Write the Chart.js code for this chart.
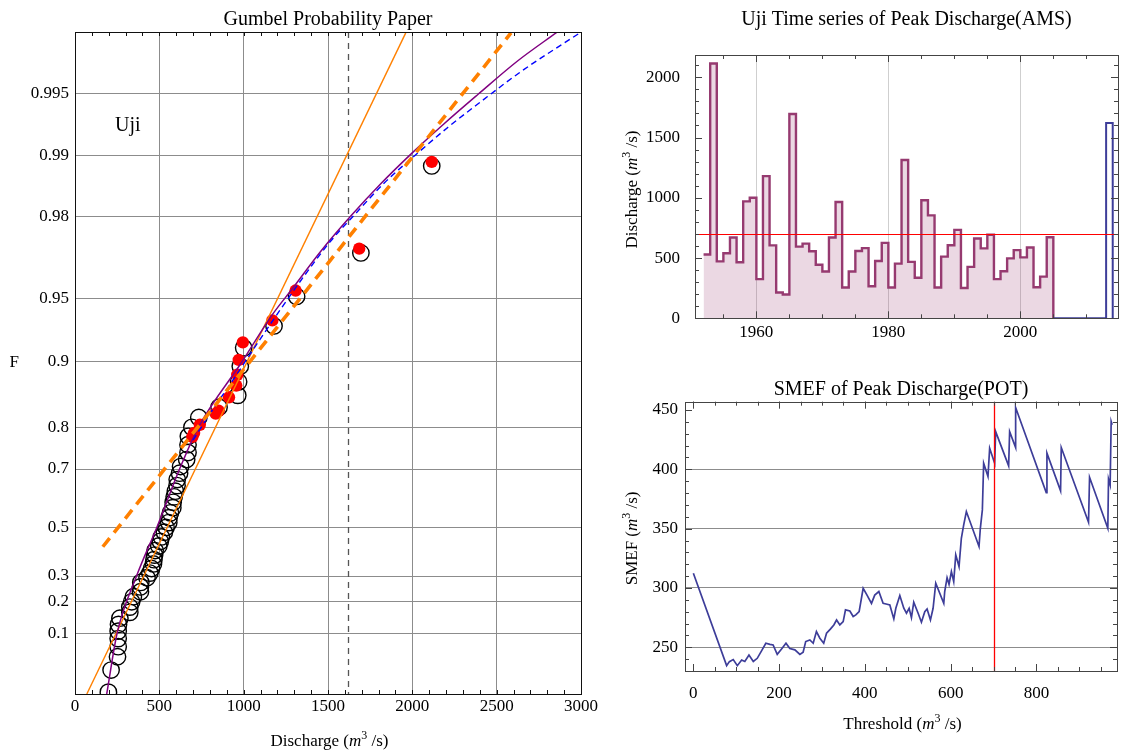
<!DOCTYPE html>
<html>
<head>
<meta charset="utf-8">
<script src="https://cdn.jsdelivr.net/npm/chart.js"></script>
<style>
  body { margin: 0; background: #fff; }
  #wrap { position: relative; width: 1128px; height: 753px; }
  canvas { position: absolute; }
</style>
</head>
<body>
<div id="wrap">
  <canvas id="gumbel" width="600" height="753" style="left:0;top:0"></canvas>
  <canvas id="ams" width="528" height="370" style="left:600px;top:0"></canvas>
  <canvas id="smef" width="528" height="383" style="left:600px;top:370px"></canvas>
</div>
<script>
// annual maximum series, Uji
const amsYears = [1952, 1953, 1954, 1955, 1956, 1957, 1958, 1959, 1960, 1961, 1962, 1963, 1964, 1965, 1966, 1967, 1968, 1969, 1970, 1971,
  1972, 1973, 1974, 1975, 1976, 1977, 1978, 1979, 1980, 1981, 1982, 1983, 1984, 1985, 1986, 1987, 1988, 1989, 1990, 1991,
  1992, 1993, 1994, 1995, 1996, 1997, 1998, 1999, 2000, 2001, 2002, 2003, 2004];
const amsValues = [530, 2115, 472, 540, 670, 465, 970, 1000, 325, 1180, 605, 214, 198, 1695, 595, 620, 556, 444, 388, 670,
  965, 256, 388, 558, 582, 266, 475, 626, 256, 454, 1314, 468, 336, 980, 854, 256, 512, 606, 734, 252,
  427, 662, 580, 693, 325, 390, 497, 566, 506, 588, 258, 346, 672];
const amsEndYear = 2005;
const recentYears = [2013];
const recentValues = [1620];
const potThreshold = 700;

// plotting positions of the sorted AMS (circles)
const plotPosF = [0.011, 0.030, 0.049, 0.068, 0.086, 0.105, 0.124, 0.143, 0.162, 0.180, 0.199, 0.218, 0.237, 0.256, 0.274,
  0.293, 0.312, 0.331, 0.350, 0.368, 0.387, 0.406, 0.425, 0.444, 0.462, 0.481, 0.500, 0.519, 0.538, 0.556, 0.575, 0.594,
  0.613, 0.632, 0.650, 0.669, 0.688, 0.707, 0.726, 0.744, 0.763, 0.782, 0.801, 0.820, 0.838, 0.857, 0.876, 0.895, 0.914,
  0.9323, 0.9511, 0.9699, 0.9887];

// POT based points (red)
const potQ = [696, 706, 740, 834, 852, 913, 956, 962, 971, 995, 1170, 1308, 1685, 2115];
const potF = [0.781, 0.789, 0.806, 0.827, 0.832, 0.854, 0.871, 0.885, 0.902, 0.919, 0.9363, 0.9542, 0.9713, 0.9892];

// fitted lines on gumbel paper
const gumbelLineQ = [70, 1961];
const gumbelLineF = [0.01, 0.9975];
const dashLineQ = [165, 2585];
const dashLineF = [0.4218, 0.9975];
const gevQ = [188, 250, 365, 485, 620, 730, 990, 1170, 1292, 1455, 1635, 1810, 2001, 2185, 2390, 2620, 2858];
const gevF = [0.01, 0.1, 0.3, 0.5, 0.7, 0.8, 0.9, 0.9402, 0.9555, 0.9703, 0.9801, 0.9861, 0.99028, 0.99295, 0.99498,
  0.99654, 0.99752];
const gpdQ = [700, 800, 935, 1070, 1210, 1365, 1515, 1660, 1835, 2035, 2210, 2400, 2650, 3000];
const gpdF = [0.7736, 0.8268, 0.8778, 0.9156, 0.9423, 0.9617, 0.9736, 0.9805, 0.98634, 0.99028, 0.99269, 0.99449,
  0.99615, 0.99752];

// sample mean excess function
const smefU = [0, 77.6, 84, 93, 102.5, 112.6, 120, 129.7, 139.8, 149, 159, 169, 178.6, 186, 195.6, 205.7, 216, 225, 236.8,
  248.4, 256, 262, 271.7, 279.5, 287, 295, 304, 310.6, 320, 327.6, 334, 341.6, 349.4, 354.8, 365, 372.7, 378.9, 386.6,
  396, 405, 415.4, 423, 432.6, 442.5, 451.9, 458.2, 467.5, 472.2, 481.5, 490.8, 497, 503.2, 508.6, 514, 524.2, 531.9,
  539.7, 545.1, 552.9, 559.1, 565.3, 584, 586.2, 591.7, 596.3, 601.8, 607.2, 611.9, 619.6, 625, 630.5, 636.7, 666.2,
  669.3, 674, 677, 687.1, 691, 702.7, 705, 735.3, 737.6, 751.6, 751.6, 823, 824.6, 856.4, 858, 921.6, 924, 966.6, 968.2,
  972, 974.4, 976.7];
const smefE = [312.4, 234.5, 237.9, 239.6, 234.5, 239.3, 238, 243.5, 238, 240.7, 247, 253.4, 252.5, 252, 244, 248.6, 253.4,
  249, 247.8, 244, 245.8, 254.8, 256.2, 253.4, 263.2, 257.6, 253.4, 261.8, 265.5, 268.8, 273, 268.8, 271.6, 281.5, 280.6,
  275.9, 277.3, 280, 299.7, 294, 287, 294, 297, 287, 286.3, 285.7, 273.9, 282.9, 293.6, 282.9, 278.7, 282.9, 275, 288,
  278.7, 271.1, 280, 282.3, 273, 282.9, 304, 287, 297, 308.7, 303.1, 313.8, 305.4, 327.9, 318, 341.9, 353.1, 364.4,
  334.9, 350.3, 365.8, 405.1, 393.9, 417.8, 405.1, 431.8, 402.9, 431.8, 418.4, 452.1, 380.4, 413.6, 381.8, 418.4, 355.4,
  393.3, 350.3, 391.9, 386.9, 440.3, 437.5];

// ticks
const fTicks = [0.1, 0.2, 0.3, 0.5, 0.7, 0.8, 0.9, 0.95, 0.98, 0.99, 0.995];
const fTickLabels = ['0.1', '0.2', '0.3', '0.5', '0.7', '0.8', '0.9', '0.95', '0.98', '0.99', '0.995'];
const qTicks = [0, 500, 1000, 1500, 2000, 2500, 3000];
const yearTicks = [1960, 1980, 2000];
const amsTicks = [0, 500, 1000, 1500, 2000];
const uTicks = [0, 200, 400, 600, 800];
const smefTicks = [250, 300, 350, 400, 450];

const SERIF = "'Liberation Serif', 'DejaVu Serif', serif";
Chart.defaults.font.family = SERIF;
Chart.defaults.font.size = 17;
Chart.defaults.color = '#000';

const gy = f => -Math.log(-Math.log(f));   // gumbel reduced variate
const toPts = (qs, fs) => qs.map((q, i) => ({ x: q, y: gy(fs[i]) }));
const range = (a, b, s) => { const out = []; for (let v = a; v <= b + 1e-9; v += s) out.push(v); return out; };
const setTicks = vals => s => { s.ticks = vals.map(v => ({ value: v })); };
const plain = v => String(v);

const unitParts = name => [
  { t: name + ' (', size: 17 },
  { t: 'm', size: 17, style: 'italic' },
  { t: '3', size: 12, rise: 7 },
  { t: ' /s)', size: 17 }
];

function drawRich(ctx, t) {
  ctx.save();
  ctx.translate(t.x, t.y);
  if (t.rotate) ctx.rotate(-Math.PI / 2);
  ctx.fillStyle = '#000';
  ctx.textBaseline = 'alphabetic';
  ctx.textAlign = 'left';
  let w = 0;
  t.parts.forEach(p => { ctx.font = `${p.style || ''} ${p.size}px ${SERIF}`; w += ctx.measureText(p.t).width; });
  let cx = t.align === 'left' ? 0 : -w / 2;
  t.parts.forEach(p => {
    ctx.font = `${p.style || ''} ${p.size}px ${SERIF}`;
    ctx.fillText(p.t, cx, -(p.rise || 0));
    cx += ctx.measureText(p.t).width;
  });
  ctx.restore();
}

function decor(cfg) {
  const line = (ctx, x1, y1, x2, y2) => { ctx.beginPath(); ctx.moveTo(x1, y1); ctx.lineTo(x2, y2); ctx.stroke(); };
  const refs = (chart, list) => {
    const { ctx, chartArea: a, scales } = chart;
    (list || []).forEach(r => {
      ctx.save();
      ctx.beginPath();
      ctx.rect(a.left, a.top, a.right - a.left, a.bottom - a.top);
      ctx.clip();
      ctx.strokeStyle = r.color;
      ctx.lineWidth = r.width;
      ctx.setLineDash(r.dash || []);
      if (r.axis === 'x') {
        const p = Math.round(scales.x.getPixelForValue(r.value)) + 0.5;
        line(ctx, p, a.top, p, a.bottom);
      } else {
        const p = Math.round(scales.y.getPixelForValue(r.value)) + 0.5;
        line(ctx, a.left, p, a.right, p);
      }
      ctx.restore();
    });
  };
  return {
    id: 'decor',
    beforeDatasetsDraw(chart) { refs(chart, cfg.under); },
    afterDatasetsDraw(chart) {
      refs(chart, cfg.over);
      const { ctx, chartArea: a, scales } = chart;
      ctx.save();
      ctx.strokeStyle = cfg.frame;
      ctx.lineWidth = 1;
      ctx.setLineDash([]);
      (cfg.ticks || []).forEach(t => {
        t.values.forEach(v => {
          if (t.axis === 'x') {
            const p = Math.round(scales.x.getPixelForValue(v)) + 0.5;
            if (p < a.left || p > a.right) return;
            line(ctx, p, a.bottom, p, a.bottom - t.len);
            line(ctx, p, a.top, p, a.top + t.len);
          } else {
            const p = Math.round(scales.y.getPixelForValue(v)) + 0.5;
            if (p < a.top || p > a.bottom) return;
            line(ctx, a.left, p, a.left + t.len, p);
            line(ctx, a.right, p, a.right - t.len, p);
          }
        });
      });
      ctx.strokeRect(Math.round(a.left) + 0.5, Math.round(a.top) + 0.5,
        Math.round(a.right - a.left), Math.round(a.bottom - a.top));
      ctx.restore();
    },
    afterDraw(chart) { (cfg.texts || []).forEach(t => drawRich(chart.ctx, t)); }
  };
}

const baseOpts = {
  responsive: false,
  animation: false,
  events: []
};
const titleOpts = (text, top, bottom) => ({
  display: true, text, color: '#000', fullSize: false,
  font: { size: 20, weight: 'normal', lineHeight: 1.2 },
  padding: { top, bottom }
});

// ---------- Gumbel probability paper ----------
const sortedQ = [...amsValues].sort((a, b) => a - b);

new Chart(document.getElementById('gumbel'), {
  type: 'scatter',
  data: {
    datasets: [
      { data: sortedQ.map((q, i) => ({ x: q, y: gy(plotPosF[i]) })), pointRadius: 8.2, borderWidth: 1.4,
        borderColor: '#000', backgroundColor: 'rgba(0,0,0,0)', order: 7 },
      { data: toPts(potQ, potF), pointRadius: 6.2, borderWidth: 0, backgroundColor: '#ff0000', order: 6 },
      { data: toPts(gumbelLineQ, gumbelLineF), showLine: true, pointRadius: 0, borderColor: '#ff8000',
        borderWidth: 1.4, order: 4 },
      { data: toPts(gevQ, gevF), showLine: true, pointRadius: 0, borderColor: '#800080', borderWidth: 1.5,
        cubicInterpolationMode: 'monotone', order: 3 },
      { data: toPts(gpdQ, gpdF), showLine: true, pointRadius: 0, borderColor: '#0000ff', borderWidth: 1.4,
        borderDash: [6, 4], cubicInterpolationMode: 'monotone', order: 2 },
      { data: toPts(dashLineQ, dashLineF), showLine: true, pointRadius: 0, borderColor: '#ff8000',
        borderWidth: 3.6, borderDash: [11, 7], order: 1 }
    ]
  },
  options: {
    ...baseOpts,
    layout: { padding: { left: 0, right: 17, top: 0, bottom: 0 }, autoPadding: false },
    plugins: {
      legend: { display: false }, tooltip: { enabled: false },
      title: titleOpts('Gumbel Probability Paper', 7.5, 0.5)
    },
    scales: {
      x: {
        type: 'linear', min: 0, max: 3000,
        afterBuildTicks: setTicks(qTicks),
        afterFit: s => { s.height = 59; },
        grid: { color: '#8c8c8c', drawTicks: false },
        border: { display: false },
        ticks: { padding: 2, maxRotation: 0, autoSkip: false, callback: plain }
      },
      y: {
        type: 'linear', min: gy(0.01), max: 6,
        afterBuildTicks: s => { s.ticks = fTicks.map(f => ({ value: gy(f) })); },
        afterFit: s => { s.width = 75; },
        grid: { color: '#8c8c8c', drawTicks: false },
        border: { display: false },
        ticks: { padding: 6, autoSkip: false, callback: (v, i) => fTickLabels[i] }
      }
    }
  },
  plugins: [decor({
    frame: '#111',
    under: [{ axis: 'x', value: recentValues[0], color: '#555', width: 1.3, dash: [6, 5] }],
    ticks: [{ axis: 'x', values: range(0, 3000, 100), len: 4 }],
    texts: [
      { parts: [{ t: 'Uji', size: 20 }], x: 115, y: 131, align: 'left' },
      { parts: [{ t: 'F', size: 17 }], x: 9.5, y: 367, align: 'left' },
      { parts: unitParts('Discharge'), x: 329.5, y: 746 }
    ]
  })]
});

// ---------- AMS time series ----------
new Chart(document.getElementById('ams'), {
  type: 'scatter',
  data: {
    datasets: [
      { data: [...amsYears.map((yr, i) => ({ x: yr, y: amsValues[i] })), { x: amsEndYear, y: 0 }],
        showLine: true, stepped: 'before', pointRadius: 0, borderColor: 'rgb(150,58,112)', borderWidth: 2.4,
        fill: 'origin', backgroundColor: 'rgba(153,61,113,0.2)', order: 2 },
      { data: [{ x: amsEndYear, y: 0 }, ...recentYears.map((yr, i) => ({ x: yr, y: recentValues[i] })),
          { x: recentYears[recentYears.length - 1] + 1, y: 0 }],
        showLine: true, stepped: 'before', pointRadius: 0, borderColor: 'rgb(61,61,153)', borderWidth: 2,
        fill: false, order: 1 }
    ]
  },
  options: {
    ...baseOpts,
    layout: { padding: { left: 0, right: 10, top: 0, bottom: 0 }, autoPadding: false },
    plugins: {
      legend: { display: false }, tooltip: { enabled: false },
      title: titleOpts('Uji Time series of Peak Discharge(AMS)', 7.8, 23.2)
    },
    scales: {
      x: {
        type: 'linear', min: 1950.7, max: 2014.8,
        afterBuildTicks: setTicks(yearTicks),
        afterFit: s => { s.height = 51.7; },
        grid: { color: '#cfcfcf', drawTicks: false },
        border: { display: false },
        ticks: { padding: 4, maxRotation: 0, autoSkip: false, callback: plain }
      },
      y: {
        type: 'linear', min: 0, max: 2185,
        afterBuildTicks: setTicks(amsTicks),
        afterFit: s => { s.width = 95; },
        grid: { display: false },
        border: { display: false },
        ticks: { padding: 7, autoSkip: false, callback: plain }
      }
    }
  },
  plugins: [decor({
    frame: '#444',
    over: [{ axis: 'y', value: potThreshold, color: '#ff0000', width: 1.2 }],
    ticks: [
      { axis: 'x', values: range(1955, 2010, 5), len: 4 },
      { axis: 'x', values: yearTicks, len: 7 },
      { axis: 'y', values: range(0, 2100, 100), len: 4 },
      { axis: 'y', values: amsTicks, len: 7 }
    ],
    texts: [{ parts: unitParts('Discharge'), x: 37, y: 189.5, rotate: true }]
  })]
});

// ---------- SMEF ----------
new Chart(document.getElementById('smef'), {
  type: 'scatter',
  data: {
    datasets: [
      { data: smefU.map((u, i) => ({ x: u, y: smefE[i] })), showLine: true, pointRadius: 0,
        borderColor: 'rgb(61,61,153)', borderWidth: 1.7 }
    ]
  },
  options: {
    ...baseOpts,
    layout: { padding: { left: 0, right: 11, top: 0, bottom: 0 }, autoPadding: false },
    plugins: {
      legend: { display: false }, tooltip: { enabled: false },
      title: titleOpts('SMEF of Peak Discharge(POT)', 7.4, 0.3)
    },
    scales: {
      x: {
        type: 'linear', min: -19.5, max: 988,
        afterBuildTicks: setTicks(uTicks),
        afterFit: s => { s.height = 82; },
        grid: { display: false },
        border: { display: false },
        ticks: { padding: 4, maxRotation: 0, autoSkip: false, callback: plain }
      },
      y: {
        type: 'linear', min: 230, max: 457,
        afterBuildTicks: setTicks(smefTicks),
        afterFit: s => { s.width = 85; },
        grid: { color: ctx => (ctx.tick && ctx.tick.value === 450 ? 'rgba(0,0,0,0)' : '#8c8c8c'), drawTicks: false },
        border: { display: false },
        ticks: { padding: 7, autoSkip: false, callback: plain }
      }
    }
  },
  plugins: [decor({
    frame: '#444',
    over: [{ axis: 'x', value: potThreshold, color: '#ff0000', width: 1.3 }],
    ticks: [
      { axis: 'x', values: range(0, 950, 50), len: 4 },
      { axis: 'x', values: uTicks, len: 7 },
      { axis: 'y', values: range(230, 450, 10), len: 4 },
      { axis: 'y', values: smefTicks, len: 7 }
    ],
    texts: [
      { parts: unitParts('SMEF'), x: 37, y: 168.4, rotate: true },
      { parts: unitParts('Threshold'), x: 302.5, y: 359 }
    ]
  })]
});
</script>
</body>
</html>
